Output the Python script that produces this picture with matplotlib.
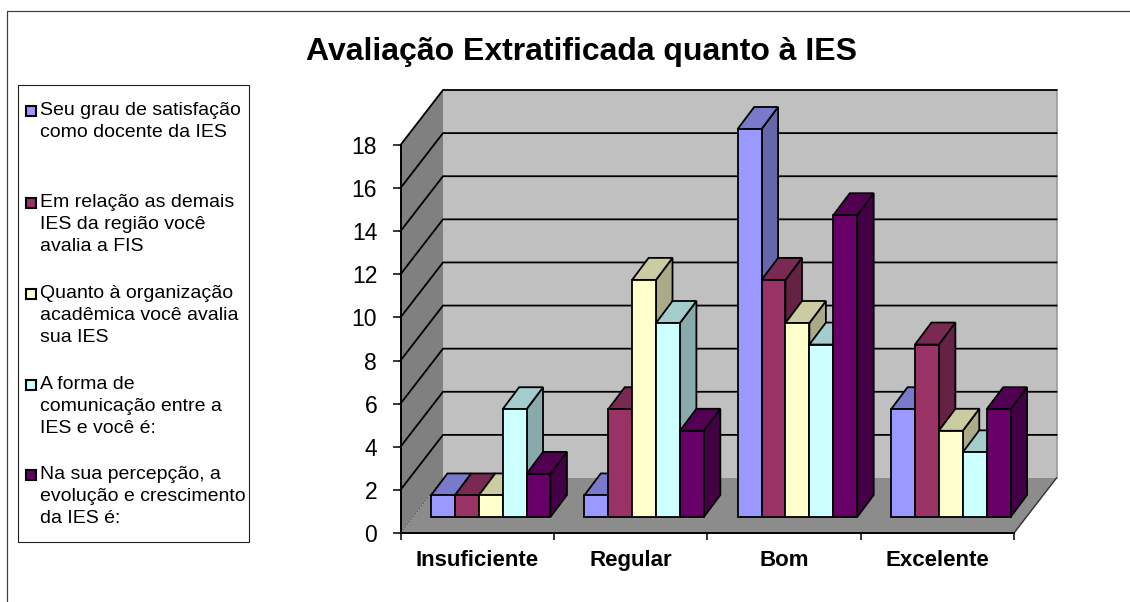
import matplotlib
matplotlib.use("Agg")
from matplotlib import pyplot as plt
from matplotlib.patches import Rectangle
from matplotlib.lines import Line2D

plt.rcParams['font.family'] = ['Liberation Sans', 'DejaVu Sans']

# dados
categorias = ['Insuficiente', 'Regular', 'Bom', 'Excelente']
satisfacao = [1, 1, 18, 5]
demais_ies = [1, 5, 11, 8]
organizacao = [1, 11, 9, 4]
comunicacao = [5, 9, 8, 3]
evolucao = [2, 4, 14, 5]
series = [satisfacao, demais_ies, organizacao, comunicacao, evolucao]

legendas = [
    'Seu grau de satisfação\ncomo docente da IES',
    'Em relação as demais\nIES da região você\navalia a FIS',
    'Quanto à organização\nacadêmica você avalia\nsua IES',
    'A forma de\ncomunicação entre a\nIES e você é:',
    'Na sua percepção, a\nevolução e crescimento\nda IES é:',
]
legenda_y = [102, 194, 285, 376, 466]  # topo de cada item, em pixels

cores = ['#9999FF', '#993366', '#FFFFCC', '#CCFFFF', '#660066']
cores_topo = ['#7A7ACC', '#7A2952', '#CCCCA3', '#A3CCCC', '#520052']
cores_lado = ['#6666AA', '#662244', '#AAAA88', '#88AAAA', '#440044']
yticks = list(range(0, 20, 2))

W, H = 1130, 602


def fx(px):
    return px / W


def fy(py):
    return 1 - py / H


fig = plt.figure(figsize=(W / 100, H / 100), dpi=100, facecolor='white')

# moldura externa
fig.add_artist(Line2D([fx(7), fx(7), fx(1130)], [fy(602), fy(11), fy(11)],
                      color='#404040', lw=0.9))

ax = fig.add_axes([fx(400.5), fy(533), 613.5 / W, 388 / H])
ax.set_xlim(0, 4)
ax.set_ylim(0, 18)
ax.patch.set_visible(False)

# escala: pixels por unidade
ux = 613.5 / 4
uy = 388 / 18

# profundidade do piso e das barras
dx, dy = 42.5 / ux, 55 / uy
bx, by = 16.5 / ux, 22 / uy
off_x, off_y = 13.5 / ux, 16 / uy
larg = 23.9 / ux

# paredes e piso
ymax = yticks[-1]
ax.fill([dx, 4 + dx, 4 + dx, dx], [dy, dy, ymax + dy, ymax + dy],
        color='#C0C0C0', lw=0, clip_on=False, zorder=1)
ax.fill([0, dx, dx, 0], [0, dy, ymax + dy, ymax], color='#808080', lw=0,
        clip_on=False, zorder=1)
ax.fill([0, 4, 4 + dx, dx], [0, 0, dy, dy], color='#8C8C8C', lw=0,
        clip_on=False, zorder=1)
ax.plot([4 + dx, 4 + dx], [dy, ymax + dy], color='#9A9A9A', lw=1.2,
        clip_on=False, zorder=1.5)

# linhas de grade
for t in yticks[1:]:
    ax.plot([0, dx, 4 + dx], [t, t + dy, t + dy], color='black', lw=1.3,
            clip_on=False, zorder=2, solid_joinstyle='miter')
ax.plot([0, dx], [0, dy], color='#505050', lw=0.6, ls=(0, (2, 2)),
        clip_on=False, zorder=2)
ax.plot([4, 4 + dx], [0, dy], color='#303030', lw=1.0, clip_on=False, zorder=2)

# barras, da esquerda para a direita
z = 3
for i in range(len(categorias)):
    centro = i + 0.5 + off_x
    for j, valores in enumerate(series):
        v = valores[i]
        x0 = centro + (j - 2.5) * larg
        x1 = x0 + larg
        topo = v + off_y
        ax.fill([x1, x1 + bx, x1 + bx, x1],
                [off_y, off_y + by, topo + by, topo],
                facecolor=cores_lado[j], edgecolor='black', lw=1.3,
                clip_on=False, zorder=z)
        ax.fill([x0, x1, x1 + bx, x0 + bx],
                [topo, topo, topo + by, topo + by],
                facecolor=cores_topo[j], edgecolor='black', lw=1.3,
                clip_on=False, zorder=z)
        ax.bar(x0, v, width=larg, bottom=off_y, align='edge', color=cores[j],
               edgecolor='black', lw=1.3, clip_on=False, zorder=z + 0.5)
        z += 1

# eixos
for s in ['top', 'right']:
    ax.spines[s].set_visible(False)
for s in ['left', 'bottom']:
    ax.spines[s].set_linewidth(1.4)
    ax.spines[s].set_zorder(50)
ax.set_yticks(yticks)
ax.set_yticklabels([str(t) for t in yticks], fontsize=16.5)
ax.set_xticks(range(5))
ax.set_xticklabels([])
ax.set_xticks([k + 0.5 for k in range(4)], minor=True)
ax.set_xticklabels(categorias, minor=True, fontsize=16, fontweight='bold')
ax.tick_params(axis='x', which='minor', length=0, pad=12)
ax.tick_params(axis='x', which='major', length=5, width=1.1)
ax.tick_params(axis='y', length=5.8, width=1.1, pad=11)

# titulo
fig.text(fx(582), fy(52), 'Avaliação Extratificada quanto à IES', fontsize=23,
         fontweight='bold', ha='center', va='center')

# legenda
fig.add_artist(Rectangle((fx(18), fy(542)), 231 / W, 457 / H, transform=fig.transFigure,
                         facecolor='white', edgecolor='#202020', lw=0.8))
for k in range(5):
    topo = legenda_y[k]
    fig.add_artist(Rectangle((fx(25.5), fy(topo + 14)), 10 / W, 10 / H,
                             transform=fig.transFigure, facecolor=cores[k],
                             edgecolor='black', lw=1.5))
    fig.text(fx(39.5), fy(topo), legendas[k], fontsize=14, va='top', ha='left',
             linespacing=1.39)

fig.savefig('out.png', dpi=100)
